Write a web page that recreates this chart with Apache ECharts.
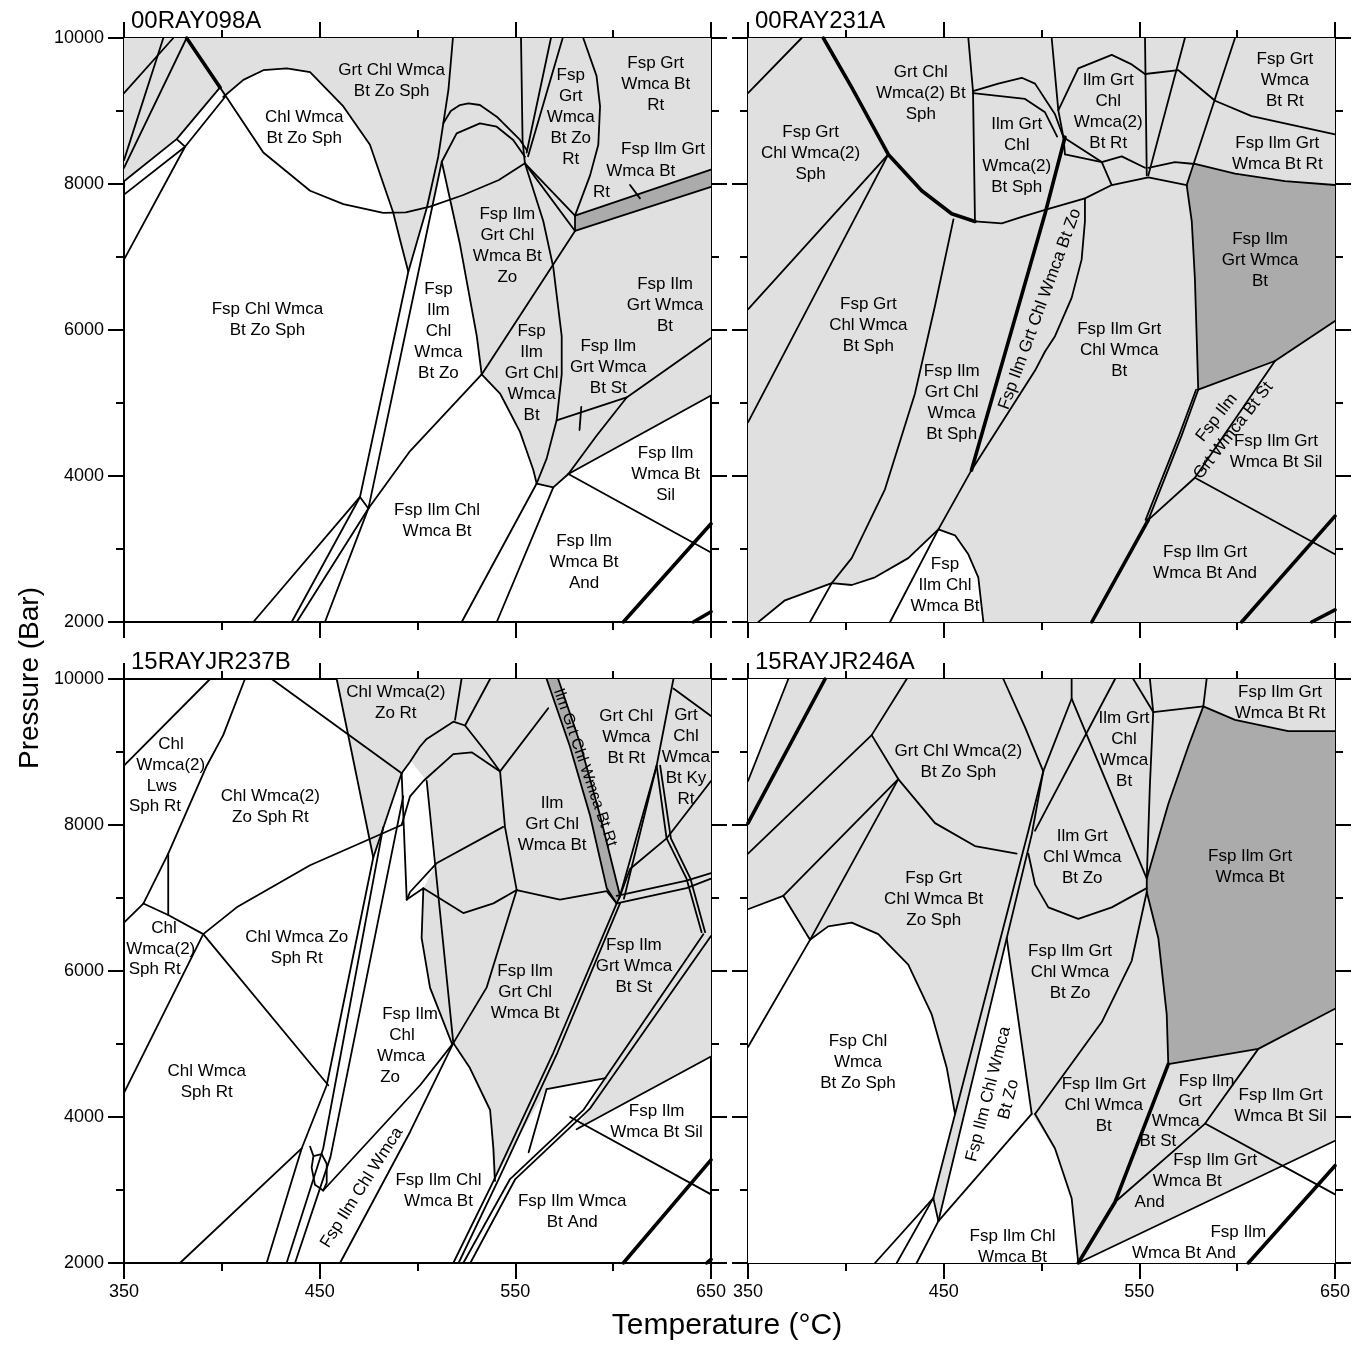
<!DOCTYPE html>
<html>
<head>
<meta charset="utf-8">
<script src="https://cdn.jsdelivr.net/npm/echarts@6/dist/echarts.min.js"></script>
<style>html,body{margin:0;padding:0;background:#fff}#chart{width:1364px;height:1345px}</style>
</head>
<body>
<div id="chart"></div>
<script>
// ---------------- axes / tick values ----------------
const tempRange = [350, 650];
const pressRange = [2000, 10000];
const tempTickLabels = [350, 450, 550, 650];
const pressTickLabels = [2000, 4000, 6000, 8000, 10000];
const panelTitles = ['00RAY098A', '00RAY231A', '15RAYJR237B', '15RAYJR246A'];
const axisTitleX = 'Temperature (°C)';
const axisTitleY = 'Pressure (Bar)';

// ---------------- Panel A : 00RAY098A ----------------
const A_light = [
  [[350,10000],[382,10000],[399.1,9323],[376.9,8615],[350,8038]],
  [[382,10000],[650,10000],[650,5102],[577.1,4028],[569.4,3845],[560.9,3897],[559.2,4082],[552.4,4605],[542.2,5130],[532.8,5391],[530.3,5916],[521.7,7174],[512.4,8305],[508.1,7735],[504.7,7667],[495.3,6798],[491.1,7233],[487.5,7616],[475.7,8537],[462.1,9062],[445.1,9533],[433.2,9585],[421.2,9559],[411.0,9427],[400.7,9192],[399.1,9323]]
];
const A_white = [];
const A_dark = [
  [[580.5,7567],[650,8196],[650,7960],[580.5,7357]]
];
const A_lines = [
  [[399.1,9323],[421.2,8431],[445.1,7908],[462.1,7724],[482.5,7604],[494,7610],[506.4,7689],[523.4,7849],[541.6,8055],[554.9,8283]],
  [[400.7,9192],[411.0,9427],[421.2,9559],[433.2,9585],[445.1,9533],[462.1,9062],[475.7,8537],[487.5,7616],[491.1,7233],[495.3,6798]],
  [[470.6,3713],[495.3,6798],[504.7,7667],[510.6,8374],[515.8,9288],[518.1,10000]],
  [[474.9,3556],[512.4,8305]],
  [[513.2,8831],[517,9000],[521.7,9082],[526.0,9105],[531.9,9082],[540.5,8922],[552.4,8603],[555.8,8466]],
  [[512.4,8305],[520.0,8694],[531.9,8831],[540.5,8785],[548.9,8603],[554.9,8374]],
  [[512.4,8305],[521.7,7174],[530.3,5916],[532.8,5391]],
  [[474.9,3556],[496.2,4342],[532.8,5391]],
  [[532.8,5391],[542.2,5130],[552.4,4605],[559.2,4082],[560.9,3897]],
  [[532.8,5391],[580.5,7357]],
  [[554.9,8283],[564.3,7489],[569.4,6859],[573.7,5916],[573.7,5391],[571.1,4763],[566.0,4238],[560.9,3897]],
  [[554.9,8283],[580.5,7567]],
  [[554.9,8283],[580.5,7357]],
  [[584.7,10000],[591.5,9481],[593.3,9062],[592.4,8537],[588.2,8118],[580.5,7567]],
  [[552.9,10000],[553.7,8589],[554.9,8283]],
  [[568.2,10000],[555.8,8431]],
  [[574.2,10000],[556.5,8380]],
  [[580.5,7567],[650,8196]],
  [[580.5,7357],[650,7960]],
  [[580.5,7567],[580.5,7357]],
  [[608.6,7986],[613.7,7803]],
  [[571.1,4763],[606.9,5076],[650,5889]],
  [[577.1,4028],[591.5,4551],[606.9,5076]],
  [[577.1,4028],[650,5102]],
  [[577.1,4028],[650,2953]],
  [[522.6,2000],[560.9,3897]],
  [[540.5,2000],[569.4,3845]],
  [[560.9,3897],[569.4,3845],[577.1,4028]],
  [[583.7,4945],[582.8,4630]],
  [[416.1,2000],[470.6,3713]],
  [[435.7,2000],[470.6,3713]],
  [[438.3,2000],[474.9,3556]],
  [[452.7,2000],[474.9,3556]],
  [[470.6,3713],[474.9,3556]],
  [[350,9245],[375.2,10000]],
  [[350,8327],[370.1,10000]],
  [[350,8222],[382,10000]],
  [[350,8038],[376.9,8615],[399.1,9323]],
  [[350,7855],[381.2,8511],[401.6,9192]],
  [[376.9,8615],[381.2,8511]],
  [[350,6964],[381.2,8511]]
];
const A_thick = [
  [[382,10000],[399.1,9323]],
  [[605.2,2000],[650,3346]],
  [[641.0,2000],[650,2141]]
];
const A_labels = [
  ['Grt Chl Wmca\nBt Zo Sph',486.8,9418],
  ['Chl Wmca\nBt Zo Sph',442.1,8770],
  ['Fsp Chl Wmca\nBt Zo Sph',423.3,6137],
  ['Fsp\nIlm\nChl\nWmca\nBt Zo',510.7,5986],
  ['Fsp\nGrt\nWmca\nBt Zo\nRt',578.3,8918],
  ['Fsp Grt\nWmca Bt\nRt',621.7,9360],
  ['Fsp Ilm Grt',625.5,8474],
  ['Wmca Bt',614.1,8170],
  ['Rt',594.0,7882],
  ['Fsp Ilm\nGrt Chl\nWmca Bt\nZo',545.9,7160],
  ['Fsp\nIlm\nGrt Chl\nWmca\nBt',558.3,5410],
  ['Fsp Ilm\nGrt Wmca\nBt St',597.5,5486],
  ['Fsp Ilm\nGrt Wmca\nBt',626.5,6345],
  ['Fsp Ilm Chl\nWmca Bt',510.0,3386],
  ['Fsp Ilm\nWmca Bt\nSil',626.8,4028],
  ['Fsp Ilm\nWmca Bt\nAnd',585.1,2821]
];

// ---------------- Panel B : 00RAY231A ----------------
const B_light = [
  [[350,2000],[650,2000],[650,10000],[350,10000]]
];
const B_white = [
  [[422.6,2000],[447.3,3268],[455.8,3188],[462.6,2927],[467.7,2612],[470.3,2000]],
  [[355.3,2000],[368.9,2297],[392.8,2533],[403.0,2507],[414.9,2612],[431.9,2875],[447.3,3268],[422.6,2000]]
];
const B_dark = [
  [[574.2,7986],[578.4,8274],[598.9,8143],[624.4,8038],[650,7986],[650,6124],[619.3,5575],[580.1,5182],[579.3,5915],[578.4,6702],[576.8,7487]]
];
const B_lines = [
  [[350,9245],[377.4,10000]],
  [[466.0,7487],[479.7,7461],[490,7550],[501.8,7645],[522.2,7803],[535.9,7986],[554.6,8092],[574.2,7986]],
  [[350,6282],[421.7,8405]],
  [[350,4735],[421.7,8405]],
  [[381.7,2000],[392.8,2533],[403.0,2875],[420.0,3818],[435.3,5128],[445.6,6335],[455.0,7515]],
  [[355.3,2000],[368.9,2297],[392.8,2533],[403.0,2507],[414.9,2612],[431.9,2875],[447.3,3268]],
  [[422.6,2000],[447.3,3268],[464.2,4080],[496.7,5444],[501.8,5705],[506.9,5915],[515.4,6440],[520.5,6964],[522.2,7487],[522.2,7803]],
  [[462.6,10000],[465.0,9271],[466.0,7487]],
  [[465.0,9271],[477.9,9375],[489.9,9455],[496.7,9375],[506.9,8956],[511.2,8641],[512.0,8405]],
  [[465.0,9245],[491.6,9166],[501.8,8982],[508.0,8650]],
  [[505.2,10000],[508.6,9008],[511.2,8641]],
  [[508.6,9008],[518.8,9585],[535.9,9768],[546.1,9638],[552.9,9507],[570.0,9559],[588.7,9140],[607.4,8930],[650,8680]],
  [[552.9,10000],[553.8,8118]],
  [[573.3,10000],[554.6,8118]],
  [[598.9,10000],[574.2,7986]],
  [[554.6,8222],[568.2,8301],[578.4,8274],[598.9,8143],[624.4,8038],[650,7986]],
  [[512.0,8405],[530.8,8301],[541.0,8379],[552.9,8222]],
  [[511.2,8641],[530.8,8301],[535.9,7986]],
  [[574.2,7986],[576.8,7487],[578.4,6702],[579.3,5915],[580.1,5182]],
  [[580.1,5182],[619.3,5575],[650,6124]],
  [[619.3,5575],[578.4,3976],[554.6,3399]],
  [[554.6,3399],[571.6,4553],[580.1,5182]],
  [[553.2,3399],[570.3,4553],[579.0,5182]],
  [[578.4,3976],[650,2927]],
  [[447.3,3268],[455.8,3188],[462.6,2927],[467.7,2612],[470.3,2000]]
];
const B_thick = [
  [[388.5,10000],[403.0,9323],[421.7,8405],[438.8,7908],[454.1,7593],[466.0,7487]],
  [[464.2,4080],[501.8,7593],[512.0,8641]],
  [[525.7,2000],[554.6,3399]],
  [[602.3,2000],[650,3450]],
  [[638.1,2000],[650,2166]]
];
const B_labels = [
  ['Grt Chl\nWmca(2) Bt\nSph',438.3,9247],
  ['Fsp Grt\nChl Wmca(2)\nSph',382.0,8416],
  ['Ilm Grt\nChl\nWmca(2)\nBt Sph',487.3,8387],
  ['Ilm Grt\nChl\nWmca(2)\nBt Rt',534.1,8988],
  ['Fsp Grt\nWmca\nBt Rt',624.4,9418],
  ['Fsp Ilm Grt\nWmca Bt Rt',620.5,8408],
  ['Fsp Ilm\nGrt Wmca\nBt',611.7,6961],
  ['Fsp Grt\nChl Wmca\nBt Sph',411.5,6071],
  ['Fsp Ilm\nGrt Chl\nWmca\nBt Sph',454.1,5006],
  ['Fsp Ilm Grt Chl Wmca Bt Zo',499.2,6287,70],
  ['Fsp Ilm Grt\nChl Wmca\nBt',539.7,5716],
  ['Fsp Ilm\nGrt Wmca Bt St',593.8,4709,52],
  ['Fsp Ilm Grt\nWmca Bt Sil',619.8,4330],
  ['Fsp Ilm Grt\nWmca Bt And',583.6,2809],
  ['Fsp\nIlm Chl\nWmca Bt',450.7,2507]
];

// ---------------- Panel C : 15RAYJR237B ----------------
const C_light = [
  [[458.7,10000],[650,10000],[650,4828],[581.3,3832],[596.1,4532],[566.0,4382],[538.8,3122],[537.1,4096],[526.8,4671],[518.3,5012],[506.4,5772],[502.1,6453],[503,7135],[509.7,7475],[504.7,8603],[496.2,8890],[491.9,8708],[477.4,7555]]
];
const C_white = [];
const C_dark = [
  [[566.0,10000],[577.9,9075],[588.2,8131],[596.7,7135],[601.8,6926],[603.5,7030],[593.3,8131],[583.0,9127],[571.9,10000]]
];
const C_lines = [
  [[350,8812],[394,10000]],
  [[350,6663],[359.9,6924],[372.6,7607],[392.3,8812],[400.7,9231],[411.8,10000]],
  [[372.6,7607],[372.6,6767]],
  [[359.9,6924],[372.6,6767],[390.5,6505]],
  [[350,4330],[390.5,6505]],
  [[390.5,6505],[407.6,6872],[445.1,7449],[491.9,8000]],
  [[390.5,6505],[454.4,4435]],
  [[425.5,10000],[491.9,8708]],
  [[458.7,10000],[477.4,7555]],
  [[477.4,7555],[491.9,8708]],
  [[378.6,2000],[440.8,3569]],
  [[477.4,7555],[453.6,4435],[440.8,3569],[422.9,2000]],
  [[482.5,7974],[451.8,3569],[433.1,2000]],
  [[492.7,8393],[455.5,3450],[437.4,2000]],
  [[445.1,3595],[446.8,3465],[451.0,3493],[453.6,3360],[453.6,3098],[451.8,2993],[447.6,3071],[445.9,3306],[446.8,3465]],
  [[451.8,2993],[501.3,4435],[518.3,5012]],
  [[460.4,2000],[496.2,3795],[518.3,5012]],
  [[491.9,8708],[494.5,6978]],
  [[494.5,6978],[496.2,7082],[509.7,7475],[543.8,7974]],
  [[491.9,8708],[496.2,8866],[501.3,9075],[504.7,9179],[518.3,9415],[524.3,9363],[535,9000],[542.2,8734]],
  [[491.9,8000],[496.2,8393],[503,8603],[518.3,8970],[527.7,8996],[542.2,8734]],
  [[522.5,10000],[519.2,9441]],
  [[537.1,10000],[524.3,9363]],
  [[566.8,9599],[542.2,8734]],
  [[542.2,8734],[544.7,7974],[550.7,7109]],
  [[550.7,7109],[572.8,6978],[596.7,7093],[601.8,6926]],
  [[503,7135],[523.4,6794],[538.8,6926],[550.7,7109]],
  [[494.5,6978],[503,7135],[502.1,6453],[506.4,5772],[517.5,5012]],
  [[504.7,8603],[518.3,5012]],
  [[518.3,5012],[526.8,4671],[537.1,4096],[538.8,3569],[539.6,3124]],
  [[518.3,5012],[535.3,5772],[550.7,7109]],
  [[601.8,6926],[569.4,4880],[538.8,3122],[518.3,2000]],
  [[603.5,6926],[571.5,4880],[541,3122],[521,2000]],
  [[646.1,6505],[584.7,4094],[547.3,3150],[523.4,2000]],
  [[650,6480],[588,4110],[550,3150],[527,2000]],
  [[566.0,4382],[596.1,4532]],
  [[566.0,4382],[556.8,3517]],
  [[650,4828],[581.3,3832]],
  [[578,4000],[650,2940]],
  [[630.8,10000],[622.2,8812],[603.5,7030]],
  [[622.2,8812],[605.5,6990]],
  [[622.2,8812],[627.3,7816],[637.5,7265],[645.2,6532]],
  [[624,8812],[629.5,7816],[639.5,7265],[647,6532]],
  [[630.8,9870],[650,9494]],
  [[627.3,7816],[650,8603]],
  [[603,6990],[608.6,7397],[627.3,7816]],
  [[601.8,7030],[637.5,7239],[650,7342]],
  [[601.8,6926],[637.5,7135],[650,7265]],
  [[566.0,10000],[577.9,9075],[588.2,8131],[596.7,7135],[601.8,6926]],
  [[571.9,10000],[583.0,9127],[593.3,8131],[603.5,7030],[601.8,6926]]
];
const C_thick = [
  [[605.2,2000],[650,3413]],
  [[647.8,2000],[650,2050]]
];
const C_labels = [
  ['Chl',374.0,9101],['Wmca(2)',373.9,8812],['Lws',369.3,8534],['Sph Rt',365.8,8261],
  ['Chl Wmca(2)\nZo Sph Rt',424.8,8249],
  ['Chl Wmca(2)\nZo Rt',488.9,9675],
  ['Chl',370.4,6585],['Wmca(2)',368.8,6296],['Sph Rt',365.7,6023],
  ['Chl Wmca Zo\nSph Rt',438.3,6319],
  ['Chl Wmca\nSph Rt',392.3,4484],
  ['Fsp Ilm',496.2,5405],['Chl',492.1,5116],['Wmca',491.6,4828],['Zo',486.0,4539],
  ['Fsp Ilm Chl Wmca',471.5,3032,57.5],
  ['Fsp Ilm Chl\nWmca Bt',510.7,2990],
  ['Fsp Ilm Wmca\nBt And',579.1,2705],
  ['Fsp Ilm\nWmca Bt Sil',622.2,3939],
  ['Fsp Ilm\nGrt Wmca\nBt St',610.6,6060],
  ['Fsp Ilm\nGrt Chl\nWmca Bt',555.0,5709],
  ['Ilm\nGrt Chl\nWmca Bt',568.8,8011],
  ['Grt Chl\nWmca\nBt Rt',606.7,9205],
  ['Grt\nChl\nWmca\nBt Ky\nRt',637.2,8927],
  ['Ilm Grt Chl Wmca Bt Rt',585.6,8786,-71,16]
];

// ---------------- Panel D : 15RAYJR246A ----------------
const D_light = [
  [[350,2000],[650,2000],[650,10000],[350,10000]]
];
const D_white = [
  [[350,10000],[370.6,10000],[350,8603]],
  [[350,6846],[368.0,7030],[381.7,6427],[391.0,6611],[403.0,6663],[416.6,6505],[431.9,6086],[443.9,5405],[451.6,4670],[455.8,4042],[444.7,2888],[447.3,2573],[482.2,6453],[495.0,4042],[506.9,3569],[515.4,2888],[518.8,2000],[350,2000]],
  [[518.8,2000],[650,3675],[650,2000]]
];
const D_dark = [
  [[582.7,9625],[598.9,9441],[626.1,9285],[650,9285],[650,5483],[610.8,4933],[564.8,4723],[564.0,5405],[559.7,6453],[553.8,7082],[553.8,7266],[564.8,8288],[575.0,9075]]
];
const D_lines = [
  [[370.6,10000],[350,8603]],
  [[431.1,10000],[413.2,9231],[350,7607]],
  [[413.2,9231],[426.8,8629],[445.6,8026],[466.0,7712],[487.3,7607]],
  [[426.8,8629],[368.0,7030],[350,6846]],
  [[426.8,8629],[381.7,6427],[350,4958]],
  [[368.0,7030],[381.7,6427]],
  [[381.7,6427],[391.0,6611],[403.0,6663],[416.6,6505],[431.9,6086],[443.9,5405],[451.6,4670],[455.8,4042]],
  [[444.7,2888],[493.3,7922],[500.9,8734]],
  [[447.3,2573],[495.0,7868],[500.9,8734]],
  [[414.9,2000],[444.7,2888]],
  [[426.0,2000],[444.7,2888]],
  [[436.2,2000],[447.3,2573]],
  [[444.7,2888],[447.3,2573]],
  [[482.2,6453],[495.0,4042]],
  [[447.3,2573],[495.0,4042]],
  [[496.7,4042],[506.9,3569],[515.4,2888],[518.8,2000]],
  [[480.5,10000],[491.6,9337],[500.9,8734]],
  [[515.4,10000],[515.4,9730],[500.9,8734]],
  [[537.6,10000],[496.7,7922]],
  [[515.4,9730],[553.8,7266]],
  [[555.4,10000],[557.1,9547],[555.4,8551],[553.8,7266],[553.8,7082]],
  [[546.9,10000],[557.1,9547]],
  [[557.1,9547],[582.7,9625]],
  [[584.4,10000],[582.7,9625]],
  [[582.7,9625],[598.9,9441],[626.1,9285],[650,9285]],
  [[582.7,9625],[575.0,9075],[564.8,8288],[553.8,7266]],
  [[553.8,7082],[559.7,6453],[564.0,5405],[564.8,4723]],
  [[564.8,4723],[610.8,4933],[650,5483]],
  [[493.3,7607],[496.7,7187],[503.5,6872],[518.8,6715],[535.9,6872],[553.8,7135]],
  [[553.8,7082],[546.1,6140],[530.8,5301],[496.7,4042]],
  [[518.8,2000],[650,3675]],
  [[537.6,2836],[583.6,3910],[610.8,4933]],
  [[583.6,3910],[650,2940]]
];
const D_thick = [
  [[389.4,10000],[350,8026]],
  [[518.8,2000],[537.6,2836],[564.8,4723]],
  [[605.7,2000],[650,3333]]
];
const D_labels = [
  ['Grt Chl Wmca(2)\nBt Zo Sph',457.5,8866],
  ['Fsp Grt\nChl Wmca Bt\nZo Sph',444.9,6988],
  ['Fsp Chl\nWmca\nBt Zo Sph',406.2,4749],
  ['Fsp Ilm Chl Wmca\nBt Zo',478.1,4277,75.7],
  ['Ilm Grt\nChl\nWmca\nBt',542.2,9029],
  ['Ilm Grt\nChl Wmca\nBt Zo',520.8,7564],
  ['Fsp Ilm Grt\nChl Wmca\nBt Zo',514.6,5982],
  ['Fsp Ilm Grt\nChl Wmca\nBt',531.8,4164],
  ['Fsp Ilm',584.4,4487],['Grt',575.9,4215],['Wmca',568.6,3936],['Bt St',559.5,3664],
  ['Fsp Ilm Grt\nWmca Bt Sil',622.2,4160],
  ['Fsp Ilm Grt',588.8,3413],['Wmca Bt',574.5,3124],['And',555.3,2825],
  ['Fsp Ilm',600.6,2422],['Wmca Bt And',572.8,2134],
  ['Fsp Ilm Grt\nWmca Bt',606.6,7426],
  ['Fsp Ilm Grt\nWmca Bt Rt',621.9,9679],
  ['Fsp Ilm Chl\nWmca Bt',485.2,2226]
];

// ---------------- layout & style ----------------
const LIGHT = '#e0e0e0';
const DARK = '#ababab';
const FONT = '"Liberation Sans", Arial, Helvetica, sans-serif';
const gridBoxes = [
  {left:124, top:38}, {left:748, top:38}, {left:124, top:679}, {left:748, top:679}
];
const GW = 587, GH = 584;
const panels = [
  {light:A_light, white:A_white, dark:A_dark, lines:A_lines, thick:A_thick, labels:A_labels, xl:false, yl:true},
  {light:B_light, white:B_white, dark:B_dark, lines:B_lines, thick:B_thick, labels:B_labels, xl:false, yl:false},
  {light:C_light, white:C_white, dark:C_dark, lines:C_lines, thick:C_thick, labels:C_labels, xl:true, yl:true},
  {light:D_light, white:D_white, dark:D_dark, lines:D_lines, thick:D_thick, labels:D_labels, xl:true, yl:false}
];

const tickCommon = {
  axisLine:{show:true, onZero:false, lineStyle:{color:'#000', width:2}},
  axisTick:{show:true, length:16, inside:false, lineStyle:{color:'#000', width:2}},
  minorTick:{show:true, splitNumber:2, length:8, lineStyle:{color:'#000', width:2}},
  splitLine:{show:false}, minorSplitLine:{show:false}
};

const grids = [], xAxes = [], yAxes = [], series = [], titles = [];
panels.forEach((p, gi) => {
  grids.push({left:gridBoxes[gi].left, top:gridBoxes[gi].top, width:GW, height:GH, containLabel:false, outerBoundsMode:'none', show:false});
  ['bottom','top'].forEach((pos, k) => {
    xAxes.push(Object.assign({type:'value', gridIndex:gi, position:pos, min:tempRange[0], max:tempRange[1], interval:100,
      axisLabel:{show: p.xl && k === 0, margin:20, fontSize:18, color:'#000', fontFamily:FONT,
        formatter: v => tempTickLabels.indexOf(v) >= 0 ? String(v) : ''}}, JSON.parse(JSON.stringify(tickCommon))));
  });
  ['left','right'].forEach((pos, k) => {
    yAxes.push(Object.assign({type:'value', gridIndex:gi, position:pos, min:pressRange[0], max:pressRange[1], interval:2000,
      axisLabel:{show: p.yl && k === 0, margin:20, fontSize:18, color:'#000', fontFamily:FONT,
        formatter: v => pressTickLabels.indexOf(v) >= 0 ? String(v) : ''}}, JSON.parse(JSON.stringify(tickCommon))));
  });
  const xi = gi * 2, yi = gi * 2;
  const fill = (polys, color, z) => ({
    type:'custom', coordinateSystem:'cartesian2d', xAxisIndex:xi, yAxisIndex:yi, silent:true, animation:false, z:z,
    data: polys.map((poly, i) => [poly[0][0], poly[0][1], i]),
    encode:{x:0, y:1},
    renderItem: (params, api) => {
      const poly = polys[api.value(2)];
      return {type:'polygon', shape:{points: poly.map(pt => api.coord(pt))}, style:{fill:color}};
    }
  });
  if (p.light.length) series.push(fill(p.light, LIGHT, 1));
  if (p.white.length) series.push(fill(p.white, '#ffffff', 2));
  if (p.dark.length) series.push(fill(p.dark, DARK, 3));
  const addLine = (pts, w) => series.push({type:'line', xAxisIndex:xi, yAxisIndex:yi, data:pts, symbol:'none', showSymbol:false,
    silent:true, animation:false, z:5, lineStyle:{color:'#000', width:w, join:'round', cap:'round'}});
  p.lines.forEach(l => addLine(l, 1.8));
  p.thick.forEach(l => addLine(l, 3.6));
  const labs = p.labels;
  series.push({type:'custom', coordinateSystem:'cartesian2d', xAxisIndex:xi, yAxisIndex:yi, silent:true, animation:false, z:10,
    data: labs.map((l, i) => [l[1], l[2], i]), encode:{x:0, y:1},
    renderItem: (params, api) => {
      const l = labs[api.value(2)];
      const c = api.coord([l[1], l[2]]);
      return {type:'text', x:c[0], y:c[1], rotation:(l[3] || 0) * Math.PI / 180,
        style:{text:l[0], fill:'#000', font:(l[4] || 17) + 'px ' + FONT, align:'center', verticalAlign:'middle', lineHeight:21}};
    }
  });
  titles.push({text:panelTitles[gi], left:gridBoxes[gi].left + 7, top:gridBoxes[gi].top - 29, padding:0,
    textStyle:{fontSize:24, fontWeight:'normal', color:'#000', fontFamily:FONT}});
});

const chart = echarts.init(document.getElementById('chart'), null, {renderer:'canvas'});
chart.setOption({
  animation:false,
  backgroundColor:'#ffffff',
  title: titles,
  grid: grids,
  xAxis: xAxes,
  yAxis: yAxes,
  series: series,
  graphic: [
    {type:'text', x:727, y:1326, z:100, style:{text:axisTitleX, fill:'#000', font:'30px ' + FONT, align:'center', verticalAlign:'middle'}},
    {type:'text', x:30, y:678, z:100, rotation:Math.PI/2, style:{text:axisTitleY, fill:'#000', font:'28px ' + FONT, align:'center', verticalAlign:'middle'}}
  ]
});
</script>
</body>
</html>
